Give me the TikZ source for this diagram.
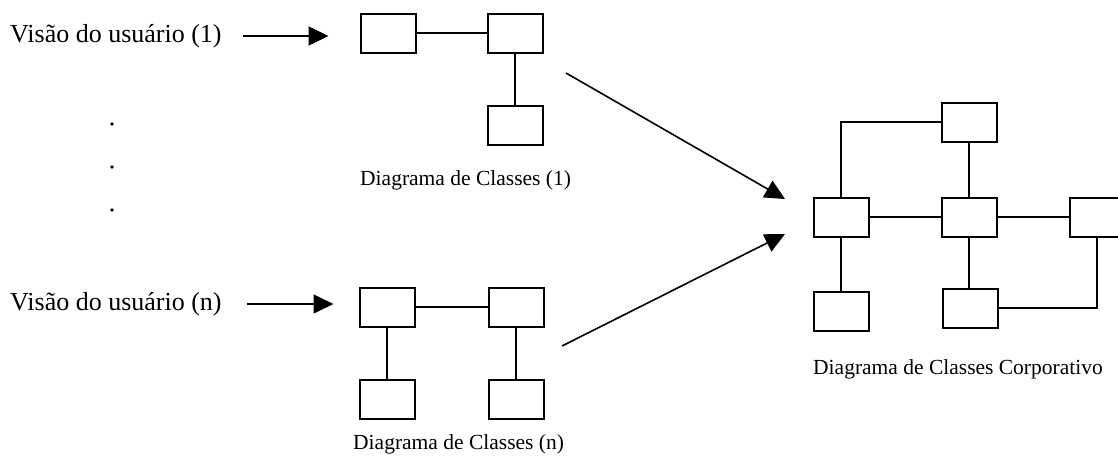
\documentclass[tikz,border=0pt]{standalone}
\usepackage{fontspec}
\setmainfont{Liberation Serif}
\usetikzlibrary{arrows.meta}
\begin{document}
\begin{tikzpicture}[x=1pt,y=-1pt,
  cls/.style={draw, line width=2pt, minimum width=55pt, minimum height=39pt, inner sep=0pt},
  link/.style={line width=2pt},
  flow/.style={line width=1.6pt, -{Triangle[length=20pt,width=19pt]}},
  view/.style={font=\fontsize{26}{30}\selectfont, inner sep=0pt, anchor=west},
  caption/.style={font=\fontsize{21.5}{26}\selectfont, inner sep=0pt, anchor=base west}]
\clip (0,0) rectangle (1118,458);

% user views
\node[view] (v1) at (10,36) {Visão do usuário (1)};
\node[view] (vn) at (10,304) {Visão do usuário (n)};
\fill (112,124) circle (1.8);
\fill (112,167) circle (1.8);
\fill (112,210) circle (1.8);

% class diagram (1)
\node[cls] (a) at (388,33) {};
\node[cls] (b) at (515,33) {};
\node[cls] (c) at (515,125) {};
\draw[link] (a.east) -- (b.west);
\draw[link] (b.south) -- (c.north);
\node[caption] (cap1) at (360,185) {Diagrama de Classes (1)};

% class diagram (n)
\node[cls] (d) at (387,307) {};
\node[cls] (e) at (516,307) {};
\node[cls] (f) at (387,399) {};
\node[cls] (g) at (516,399) {};
\draw[link] (d.east) -- (e.west);
\draw[link] (d.south) -- (f.north);
\draw[link] (e.south) -- (g.north);
\node[caption] (capn) at (353,449) {Diagrama de Classes (n)};

% corporate class diagram
\node[cls] (t)  at (969,122) {};
\node[cls] (ml) at (841,217) {};
\node[cls] (mc) at (969,217) {};
\node[cls] (mr) at (1097,217) {};
\node[cls] (bl) at (841,311) {};
\node[cls] (bc) at (970,308) {};
\draw[link] (t.west) -| (ml.north);
\draw[link] (t.south) -- (mc.north);
\draw[link] (ml.east) -- (mc.west);
\draw[link] (mc.east) -- (mr.west);
\draw[link] (ml.south) -- (bl.north);
\draw[link] (mc.south) -- (mc.south |- bc.north);
\draw[link] (bc.east) -| (mr.south);
\node[caption] (capc) at (813,374) {Diagrama de Classes Corporativo};

% views feeding the diagrams
\draw[flow, shorten <=21pt, shorten >=31pt] (v1.east) -- (v1.east -| a.west);
\draw[flow, shorten <=25pt, shorten >=25pt] (vn.east) -- (vn.east -| d.west);

% diagrams merged into the corporate one
\coordinate (s1) at (566,73);
\coordinate (t1) at (785,199);
\coordinate (s2) at (562,346);
\coordinate (t2) at (785,234);
\draw[flow] (s1) -- (t1);
\draw[flow] (s2) -- (t2);
\end{tikzpicture}
\end{document}
